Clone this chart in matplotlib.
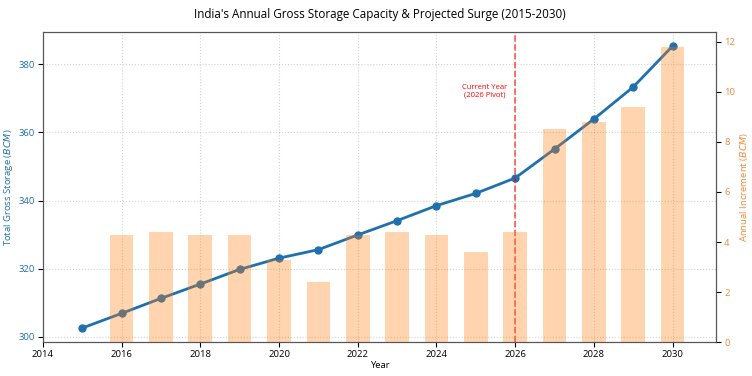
import matplotlib.pyplot as plt

plt.rcParams['font.family'] = ['Open Sans', 'DejaVu Sans']

# Datos
years = [2015, 2016, 2017, 2018, 2019, 2020, 2021, 2022, 2023,
         2024, 2025, 2026, 2027, 2028, 2029, 2030]
storage = [302.6, 306.9, 311.3, 315.5, 319.8, 323.1, 325.6, 329.9, 334.1,
           338.5, 342.1, 346.6, 355.1, 363.9, 373.3, 385.3]
inc_years = [2016, 2017, 2018, 2019, 2020, 2021, 2022, 2023,
             2024, 2025, 2026, 2027, 2028, 2029, 2030]
increment = [4.3, 4.4, 4.3, 4.3, 3.3, 2.4, 4.3, 4.4,
             4.3, 3.6, 4.4, 8.5, 8.8, 9.4, 11.8]
pivot_year = 2026

blue = '#1f70ad'
orange = '#f08a3c'

fig, ax1 = plt.subplots(figsize=(7.52, 3.76), dpi=100)
fig.subplots_adjust(left=0.057, right=0.952, top=0.915, bottom=0.09)

# Linea de almacenamiento total
ax1.plot(years, storage, color=blue, lw=2, marker='o', markersize=5)
ax1.set_xlabel('Year', fontsize=6.8, labelpad=1)
ax1.set_ylabel(r'Total Gross Storage ($\it{BCM}$)', color=blue, fontsize=6.8, labelpad=2)
ax1.tick_params(axis='y', labelcolor=blue, labelsize=6.8, pad=2.5)
ax1.tick_params(axis='x', labelsize=6.8, pad=2.5)
ax1.set_xticks(range(2014, 2031, 2))
ax1.set_xlim(2014, 2031.1)
ax1.grid(True, linestyle=':', color='gray', alpha=0.35)

# Barras de incremento anual
ax2 = ax1.twinx()
ax2.bar(inc_years, increment, width=0.6, color='tab:orange', alpha=0.33)
ax2.set_ylabel(r'Annual Increment ($\it{BCM}$)', color=orange, fontsize=6.8, labelpad=2)
ax2.tick_params(axis='y', labelcolor=orange, labelsize=6.8, pad=2.5)

# Linea del anio actual
ax1.axvline(pivot_year, color='red', linestyle='--', lw=1.2, alpha=0.65)
ax1.text(pivot_year - 0.2, 372, 'Current Year\n(2026 Pivot)', color='red',
         fontsize=5.5, ha='right', va='center', multialignment='center',
         linespacing=1.0)

for ax in (ax1, ax2):
    for s in ax.spines.values():
        s.set_color('#555555')

ax1.set_title("India's Annual Gross Storage Capacity & Projected Surge (2015-2030)",
              fontsize=8.4, pad=10)

plt.savefig('out.png', dpi=100)
